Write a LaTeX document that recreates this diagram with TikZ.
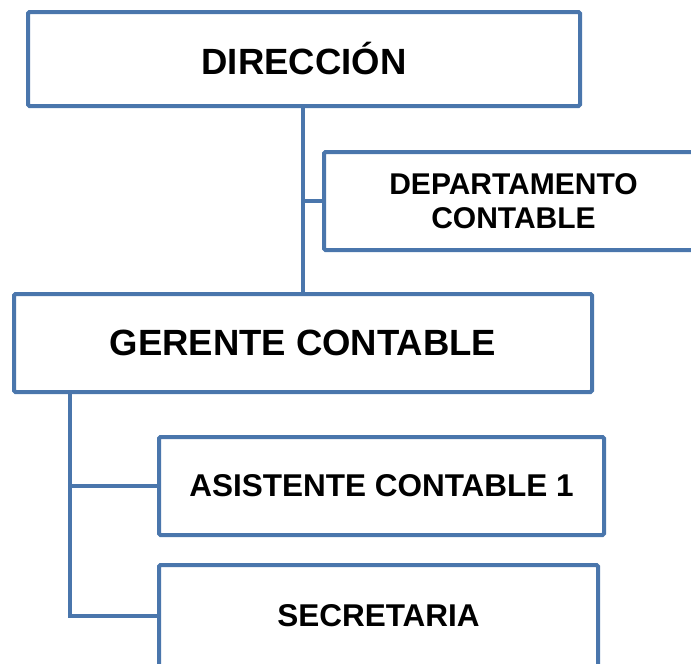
\documentclass[tikz,border=0pt]{standalone}
\usepackage{fontspec}
\setmainfont{Liberation Sans}
\usetikzlibrary{calc,positioning}

\definecolor{orgblue}{RGB}{74,118,172}

\tikzset{
  orgbox/.style={draw=orgblue, line width=4pt, rounded corners=1.5pt,
    fill=white, inner sep=0pt, align=center, font=\bfseries},
  orgline/.style={draw=orgblue, line width=4pt}
}

\begin{document}
\begin{tikzpicture}[x=1pt, y=-1pt]
\useasboundingbox (0,0) rectangle (691,664);

% top level
\node[orgbox, minimum width=552pt, minimum height=94pt,
  font=\bfseries\fontsize{36.5}{44}\selectfont] (dir) at (304,59) {DIRECCIÓN};

\node[orgbox, minimum width=379pt, minimum height=98pt,
  font=\bfseries\fontsize{30}{34}\selectfont] (dep) at (513.5,201) {DEPARTAMENTO\\CONTABLE};

\node[orgbox, minimum width=578pt, minimum height=98pt,
  font=\bfseries\fontsize{36.5}{44}\selectfont] (ger) at (303,343) {GERENTE CONTABLE};

% staff
\node[orgbox, minimum width=445pt, minimum height=98pt,
  font=\bfseries\fontsize{31.5}{38}\selectfont] (asi) at (381.5,486) {ASISTENTE CONTABLE 1};

\node[orgbox, minimum width=439pt, minimum height=102pt,
  font=\bfseries\fontsize{31.5}{38}\selectfont] (sec) at (378.5,616) {SECRETARIA};

\coordinate (top) at ($(dir.south)+(-1,0)$);
\coordinate (trunk) at ($(ger.south west)+(58,0)$);

\draw[orgline] (top) -- (top |- ger.north);
\draw[orgline] (top |- dep.west) -- (dep.west);
\draw[orgline] (trunk) |- (sec.west);
\draw[orgline] (trunk |- asi.west) -- (asi.west);
\end{tikzpicture}
\end{document}
